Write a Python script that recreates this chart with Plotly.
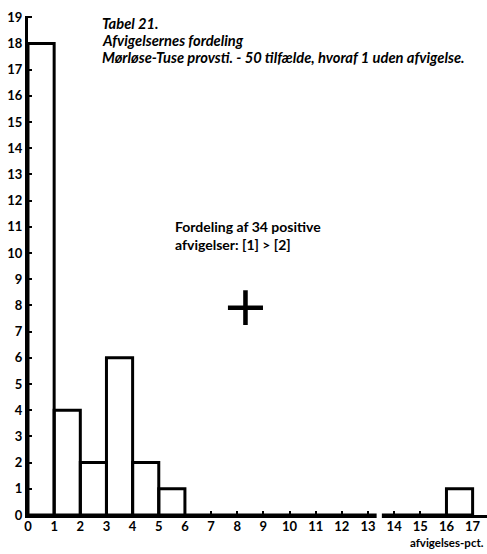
import plotly.graph_objects as go

# histogram of afvigelses-pct (bin left edges, counts)
bin_left = [0, 1, 2, 3, 4, 5, 6, 7, 8, 9, 10, 11, 12, 13, 14, 15, 16]
counts = [18, 4, 2, 6, 2, 1, 0, 0, 0, 0, 0, 0, 0, 0, 0, 0, 1]

x_ticks = list(range(0, 18))
y_ticks = list(range(0, 20))

title_lines = [
    "Tabel 21.",
    "Afvigelsernes fordeling",
    "Mørløse-Tuse provsti. - 50 tilfælde, hvoraf 1 uden afvigelse.",
]

FONT = "Lato"

fig = go.Figure()
fig.add_trace(go.Bar(
    x=[b + 0.5 for b in bin_left], y=counts, width=1,
    marker=dict(color="rgba(0,0,0,0)", line=dict(color="black", width=3)),
    hoverinfo="skip",
))

fig.update_layout(
    width=487, height=554,
    margin=dict(l=28, r=0, t=16, b=39),
    paper_bgcolor="white", plot_bgcolor="white",
    showlegend=False,
    font=dict(family=FONT, color="black"),
)
axis_style = dict(
    showgrid=False, zeroline=False, showline=True, linecolor="black", linewidth=3,
    ticks="inside", ticklen=4, tickwidth=2, tickcolor="black", automargin=False,
    tickfont=dict(family=FONT, size=13, color="black", weight="bold"),
)
fig.update_xaxes(range=[0, 17.55], tickvals=x_ticks, ticklabelstandoff=-3,
                 ticktext=[str(v) for v in x_ticks], **axis_style)
fig.update_yaxes(range=[0, 19.05], tickvals=y_ticks,
                 ticktext=[str(v) for v in y_ticks], **axis_style)

# break in the x axis between 13 and 14
fig.add_shape(type="rect", xref="x", yref="paper", x0=13.33, x1=13.53, y0=-0.01, y1=0.012,
              fillcolor="white", line=dict(width=0), layer="above")

for line, ypos in zip(title_lines, [0.986, 0.951, 0.918]):
    fig.add_annotation(
        x=0.157, y=ypos, xref="paper", yref="paper", xanchor="left", yanchor="middle",
        text=f"<i><b>{line}</b></i>", showarrow=False, font=dict(size=14.7),
    )
fig.add_annotation(
    x=5.56, y=11.4, xref="x", yref="y", xanchor="left", yanchor="top",
    text="<b>Fordeling af 34 positive<br>afvigelser: [1] > [2]</b>",
    showarrow=False, align="left", font=dict(size=14),
)
fig.add_annotation(
    x=8.3, y=8.0, xref="x", yref="y", text="+", showarrow=False,
    font=dict(family="DejaVu Sans", size=56, weight="normal"),
)
fig.add_annotation(
    x=1, y=0, xref="paper", yref="paper", xanchor="right", yanchor="middle",
    yshift=-27, xshift=-1,
    text="<b>afvigelses-pct.</b>", showarrow=False, font=dict(size=11.5),
)

# drop the default 8px body margin so the figure fills the window exactly
fig.write_html("out.html", config={"displayModeBar": False},
               post_script="document.body.style.margin = '0';")
